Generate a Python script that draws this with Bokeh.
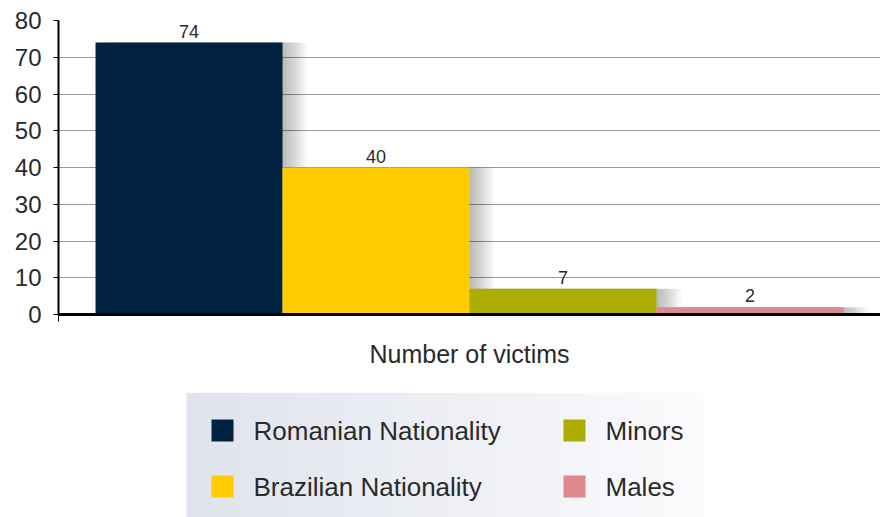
from bokeh.plotting import figure
from bokeh.models import Range1d, FixedTicker, ColumnDataSource
from bokeh.layouts import column
from bokeh.core.properties import value
from bokeh.embed import file_html
from bokeh.resources import INLINE

# ---- data ----
categories = ["Romanian Nationality", "Brazilian Nationality", "Minors", "Males"]
counts = [74, 40, 7, 2]
colors = ["#02233f", "#ffcc00", "#adac00", "#dd8a8f"]
y_ticks = [0, 10, 20, 30, 40, 50, 60, 70, 80]
x_label = "Number of victims"

FONT = "Liberation Sans"
TXT = "#2a2a2a"

W = 880
LEFT = 58
n = len(categories)
centers = [i + 0.5 for i in range(n)]
bar_px = 187.0
frame_w = float(W - LEFT)
x0 = -0.198
x1 = x0 + frame_w / bar_px

src = ColumnDataSource(dict(x=centers, top=counts, color=colors,
                            label=[str(v) for v in counts]))

p = figure(width=W, height=392, x_range=Range1d(x0, x1), y_range=Range1d(0, 80),
           output_backend="svg", toolbar_location=None,
           min_border_left=LEFT, min_border_right=0, min_border_top=20, min_border_bottom=78)
p.outline_line_color = None
p.background_fill_color = "white"
p.border_fill_color = "white"

# soft shadows
for k in range(1, 13):
    dx = 0.011 * k
    p.vbar(x=[c + dx for c in centers], width=1.0, top=counts, bottom=0,
           fill_color="black", fill_alpha=0.025, line_color=None)

p.vbar(x="x", width=1.0, top="top", bottom=0, fill_color="color", line_color=None, source=src)
p.text(x="x", y="top", text="label", source=src, text_align="center", text_baseline="bottom",
       y_offset=-5, text_font=value(FONT), text_font_size="18px", text_color=TXT)

# axes
p.xgrid.visible = False
p.ygrid.ticker = FixedTicker(ticks=y_ticks)
p.ygrid.grid_line_color = "#999999"
p.ygrid.grid_line_width = 1

ya = p.yaxis[0]
ya.ticker = FixedTicker(ticks=y_ticks)
ya.axis_line_color = "black"
ya.axis_line_width = 2
ya.major_tick_out = 5
ya.major_tick_in = 0
ya.major_tick_line_color = "black"
ya.minor_tick_line_color = None
ya.major_label_standoff = 12
ya.major_label_text_font = FONT
ya.major_label_text_font_size = "24px"
ya.major_label_text_color = TXT

xa = p.xaxis[0]
xa.ticker = FixedTicker(ticks=[x0])
xa.major_label_overrides = {x0: ""}
xa.axis_line_color = "black"
xa.axis_line_width = 3
xa.major_tick_out = 7
xa.major_tick_in = 0
xa.major_tick_line_color = "black"
xa.minor_tick_line_color = None
xa.axis_label = x_label
xa.axis_label_text_font = FONT
xa.axis_label_text_font_size = "25px"
xa.axis_label_text_font_style = "normal"
xa.axis_label_text_color = TXT
xa.axis_label_standoff = 18

# ---- legend panel (coordinates in page pixels) ----
TOP, BOT = 392, 517
lf = figure(width=W, height=BOT - TOP, x_range=Range1d(LEFT, W), y_range=Range1d(BOT, TOP),
            output_backend="svg", toolbar_location=None, x_axis_type=None, y_axis_type=None,
            min_border_left=LEFT, min_border_right=0, min_border_top=0, min_border_bottom=0)
lf.outline_line_color = None
lf.xgrid.visible = False
lf.ygrid.visible = False
lf.background_fill_color = "white"
lf.border_fill_color = "white"

box_l, box_r = 186, 702
steps = 60
c0 = (223, 227, 236)
c1 = (251, 251, 253)
lefts, rights, fills = [], [], []
for i in range(steps):
    t = i / (steps - 1)
    col = tuple(int(round(c0[k] + (c1[k] - c0[k]) * t)) for k in range(3))
    lefts.append(box_l + (box_r - box_l) * i / steps)
    rights.append(box_l + (box_r - box_l) * (i + 1) / steps + 0.5)
    fills.append("#%02x%02x%02x" % col)
lf.quad(left=lefts, right=rights, top=TOP, bottom=BOT, fill_color=fills, line_color=None)

col_x = [211, 563]
row_y = [430, 486]
sq = 22
lx, ly, ltx, lcol = [], [], [], []
for i, (name, c) in enumerate(zip(categories, colors)):
    ci, ri = divmod(i, 2)
    lx.append(col_x[ci])
    ly.append(row_y[ri])
    ltx.append(name)
    lcol.append(c)
lf.quad(left=lx, right=[v + sq for v in lx], top=[v - sq / 2 for v in ly],
        bottom=[v + sq / 2 for v in ly], fill_color=lcol, line_color=None)
lf.text(x=[v + sq + 20 for v in lx], y=ly, text=ltx, text_align="left", text_baseline="middle",
        text_font=value(FONT), text_font_size="26px", text_color=TXT)

layout = column(p, lf, spacing=0)
open("out.html", "w").write(file_html(layout, INLINE))
